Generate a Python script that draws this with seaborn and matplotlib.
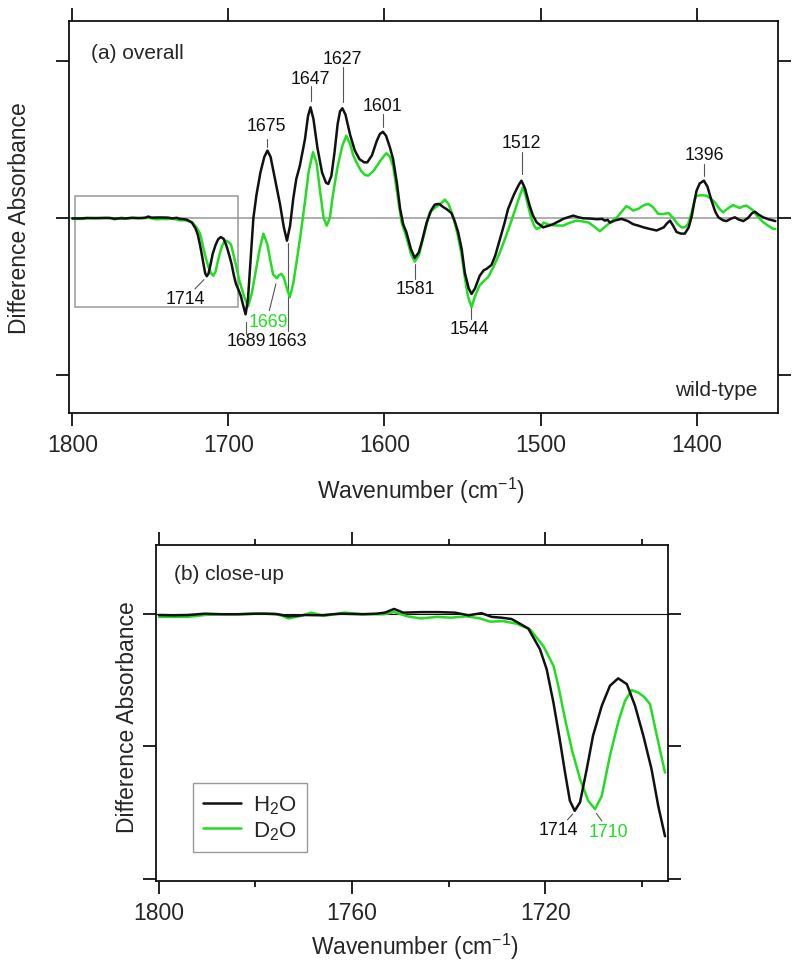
import numpy as np
import pandas as pd
import matplotlib
matplotlib.use("Agg")
import matplotlib.pyplot as plt
from matplotlib.patches import Rectangle
import seaborn as sns

# ---------------- data ----------------
wn_h2o = [1800, 1797, 1794, 1790.5, 1787, 1783.6, 1780, 1778, 1775.3, 1773.2, 1771.5, 1769.8,
          1766.3, 1764, 1762.2, 1758, 1755, 1753.2, 1751.3, 1749.4, 1745.6, 1742.2, 1738.7,
          1735.9, 1733.2, 1731.1, 1729.1, 1727, 1725.6, 1723.5, 1721.1, 1719.7, 1718.3, 1717.0,
          1715.9, 1714.9, 1713.9, 1712.8, 1711.4, 1710.1, 1708.3, 1706.6, 1704.9, 1703.1, 1701.4,
          1699.7, 1698.0, 1696.6, 1695.2, 1693.5, 1692, 1690.5, 1689, 1687.5, 1686, 1684, 1682,
          1679.5, 1677, 1675, 1673, 1670, 1667, 1664.5, 1662.5, 1660.5, 1658.5, 1656.5, 1654.3,
          1651, 1649, 1647.4, 1645.5, 1643, 1640, 1637.5, 1636, 1634, 1632, 1630, 1628.5, 1627,
          1625, 1622, 1619, 1616, 1613, 1611, 1608, 1605, 1603, 1601, 1599, 1596.5, 1594.5, 1592,
          1590, 1588, 1586, 1583, 1580.6, 1578, 1576, 1573, 1570, 1567.8, 1565, 1562.4, 1560, 1557,
          1555, 1552.8, 1550.5, 1548.5, 1546, 1544.2, 1542, 1539, 1536.5, 1534.6, 1531.4, 1529,
          1526, 1523, 1520.8, 1517, 1514, 1512.2, 1510, 1507, 1505, 1502.6, 1498.3, 1495, 1492,
          1488, 1485.5, 1482, 1479, 1476, 1472.7, 1468, 1464, 1460.5, 1458.8, 1457, 1455.5, 1452,
          1448, 1444, 1440.6, 1437, 1434, 1430, 1425.6, 1421, 1419, 1417, 1415, 1412.8, 1410,
          1407.5, 1405, 1403, 1401.5, 1400, 1398, 1395.3, 1393, 1390.4, 1388, 1386, 1383, 1380.8,
          1378, 1375.4, 1373, 1370, 1367, 1364.5, 1362.6, 1360, 1357.3, 1354, 1350.8, 1349.5]
abs_h2o = [-0.0025, -0.003, -0.0025, 0.0, -0.001, -0.001, 0.0, 0.0, -0.001, -0.005, -0.004, -0.0025,
           -0.003, -0.001, 0.0, -0.001, 0.0, 0.002, 0.009, 0.002, 0.003, 0.003, 0.002,
           -0.003, 0.001, -0.006, -0.0075, -0.01, -0.017, -0.028, -0.067, -0.105, -0.168, -0.237,
           -0.30, -0.353, -0.372, -0.356, -0.293, -0.23, -0.174, -0.136, -0.122, -0.133, -0.174,
           -0.23, -0.293, -0.363, -0.42, -0.46, -0.50, -0.56, -0.615, -0.52, -0.30, 0.0, 0.15,
           0.29, 0.39, 0.43, 0.39, 0.24, 0.09, -0.06, -0.145, -0.05, 0.12, 0.25, 0.33,
           0.50, 0.65, 0.706, 0.63, 0.45, 0.29, 0.225, 0.217, 0.27, 0.42, 0.60, 0.68, 0.70,
           0.66, 0.53, 0.43, 0.375, 0.355, 0.355, 0.40, 0.49, 0.535, 0.55, 0.525, 0.45, 0.377, 0.22,
           0.06, -0.04, -0.09, -0.20, -0.255, -0.22, -0.15, -0.03, 0.05, 0.085, 0.09, 0.07, 0.055, 0.03,
           -0.02, -0.09, -0.20, -0.35, -0.45, -0.485, -0.45, -0.37, -0.335, -0.325, -0.30, -0.24,
           -0.134, -0.03, 0.057, 0.15, 0.21, 0.238, 0.19, 0.08, 0.02, -0.027, -0.06, -0.05, -0.04,
           -0.02, -0.006, 0.005, 0.015, 0.005, -0.002, -0.004, -0.008, -0.006, -0.017, -0.012, -0.03, -0.015,
           -0.006, -0.02, -0.04, -0.05, -0.06, -0.07, -0.08, -0.06, -0.035, -0.017, -0.05, -0.09, -0.10,
           -0.10, -0.06, 0.015, 0.10, 0.174, 0.22, 0.238, 0.20, 0.11, 0.04, 0.004, -0.015, -0.02,
           -0.005, 0.004, -0.01, -0.02, 0.0, 0.03, 0.04, 0.02, 0.004, -0.008, -0.017, -0.02]

wn_d2o = [1800, 1797, 1793.9, 1790.5, 1787, 1783.6, 1780, 1776, 1774.5, 1773.2, 1770.5, 1768.5,
          1765.7, 1761.6, 1757.5, 1753.4, 1751.3, 1748.5, 1745.8, 1742.4, 1739.6, 1736.2, 1733.5,
          1731.4, 1728.7, 1725.9, 1723.1, 1720.4, 1718.3, 1717.3, 1715.9, 1714.5, 1712.8, 1711.1,
          1709.7, 1708.3, 1706.6, 1704.9, 1703.5, 1702.1, 1700.7, 1699.4, 1698.3, 1696.9, 1695.2,
          1693, 1690, 1687.4, 1685, 1682.7, 1680, 1677.6, 1675, 1673, 1671.4, 1669, 1667.5, 1666,
          1664.5, 1662.5, 1660.7, 1658.5, 1655.4, 1653, 1651, 1648.5, 1645.8, 1643.5, 1641, 1639,
          1637, 1635, 1633, 1630, 1627, 1624.4, 1622, 1620, 1618, 1615, 1612.5, 1610.5, 1607, 1603,
          1600, 1598.7, 1596.5, 1594.5, 1592, 1589, 1586, 1583, 1580.6, 1578, 1575, 1573, 1571,
          1567, 1564, 1561.3, 1559, 1557, 1555, 1552.8, 1550.5, 1548.5, 1546.5, 1544.2, 1542, 1539,
          1536, 1533.6, 1530, 1526, 1523, 1519.7, 1516, 1513, 1511.2, 1509.5, 1507.5, 1505.8, 1504,
          1502.6, 1500, 1498, 1496, 1494, 1490, 1485.5, 1481, 1477, 1473, 1469, 1465, 1462, 1459,
          1455.5, 1451, 1448, 1445, 1443, 1440.6, 1437, 1434, 1431, 1428, 1424.6, 1421, 1418, 1415,
          1412, 1409.6, 1407.5, 1405.4, 1403, 1401, 1400, 1397, 1393.6, 1391, 1388.3, 1385.5, 1383,
          1380, 1376.5, 1374, 1372.2, 1370, 1368, 1366, 1364, 1361, 1357.3, 1354, 1350.8, 1349.5]
abs_d2o = [-0.006, -0.006, -0.006, -0.0025, -0.001, -0.001, 0.0, 0.0, -0.004, -0.009, -0.004, 0.002,
           -0.004, 0.002, -0.001, -0.001, 0.003, -0.005, -0.009, -0.006, -0.0075, -0.005, -0.009,
           -0.015, -0.014, -0.019, -0.03, -0.061, -0.098, -0.136, -0.199, -0.256, -0.312, -0.353,
           -0.369, -0.344, -0.268, -0.205, -0.165, -0.144, -0.149, -0.158, -0.171, -0.23, -0.30,
           -0.40, -0.50, -0.565, -0.48, -0.35, -0.20, -0.10, -0.17, -0.28, -0.36, -0.385, -0.365, -0.357,
           -0.38, -0.45, -0.506, -0.42, -0.22, -0.05, 0.10, 0.30, 0.42, 0.35, 0.15, 0.0,
           -0.049, 0.0, 0.15, 0.33, 0.46, 0.525, 0.47, 0.40, 0.355, 0.30, 0.275, 0.27, 0.30, 0.36,
           0.40, 0.413, 0.39, 0.334, 0.17, -0.03, -0.12, -0.23, -0.279, -0.24, -0.12, -0.04, 0.036,
           0.07, 0.09, 0.117, 0.09, 0.036, -0.03, -0.12, -0.24, -0.38, -0.50, -0.57, -0.50, -0.43,
           -0.40, -0.378, -0.31, -0.219, -0.14, -0.049, 0.06, 0.15, 0.196, 0.14, 0.06, -0.006, -0.05,
           -0.07, -0.06, -0.03, -0.038, -0.045, -0.048, -0.049, -0.03, -0.017, -0.022, -0.03, -0.06, -0.085, -0.06,
           -0.03, 0.004, 0.04, 0.075, 0.065, 0.047, 0.06, 0.08, 0.09, 0.07, 0.026, 0.025, 0.032, 0.0,
           -0.04, -0.06, -0.06, -0.04, 0.04, 0.12, 0.142, 0.145, 0.142, 0.125, 0.10, 0.06, 0.036,
           0.06, 0.083, 0.07, 0.064, 0.075, 0.079, 0.065, 0.05, 0.01, -0.027, -0.05, -0.07, -0.07]

peak_labels_top = ["1714", "1689", "1669", "1663", "1675", "1647", "1627", "1601",
                   "1581", "1544", "1512", "1396"]
peak_labels_bottom = ["1714", "1710"]
series_names = ["H$_2$O", "D$_2$O"]

# ---------------- style ----------------
sns.set_theme(style="ticks")
plt.rcParams["font.family"] = ["Liberation Sans", "DejaVu Sans"]
plt.rcParams["mathtext.fontset"] = "custom"
plt.rcParams["mathtext.rm"] = "Liberation Sans"
plt.rcParams["mathtext.default"] = "regular"

BLACK = "#111111"
GREEN = "#22dd22"
GRAY = "#999999"

df_h = pd.DataFrame({"wn": wn_h2o, "A": abs_h2o})
df_d = pd.DataFrame({"wn": wn_d2o, "A": abs_d2o})

fig = plt.figure(figsize=(8.0, 9.7), dpi=100)
ax1 = fig.add_axes([0.0866, 0.5732, 0.8855, 0.4041])
ax2 = fig.add_axes([0.1956, 0.0910, 0.6399, 0.3463])

LBL = 16.5
ANN = 12.8

def style_axes(ax):
    for s in ax.spines.values():
        s.set_linewidth(1.3)
        s.set_color(BLACK)
    ax.tick_params(axis="both", which="both", direction="out", color=BLACK,
                   top=True, right=True, labelsize=LBL, width=1.3)
    ax.tick_params(axis="both", which="major", length=9.5, pad=5)
    ax.tick_params(axis="both", which="minor", length=4.5)
    ax.tick_params(axis="y", labelleft=False, labelright=False)
    ax.tick_params(axis="x", labeltop=False)

# ---------------- panel (a) ----------------
ax1.axhline(0, color=GRAY, lw=1.1, zorder=1)
sns.lineplot(data=df_d, x="wn", y="A", ax=ax1, color=GREEN, lw=1.8, sort=False, estimator=None, zorder=3)
sns.lineplot(data=df_h, x="wn", y="A", ax=ax1, color=BLACK, lw=1.8, sort=False, estimator=None, zorder=4)
ax1.set_xlim(1802, 1348)
ax1.set_ylim(-1.245, 1.257)
ax1.set_xticks([1800, 1700, 1600, 1500, 1400])
ax1.set_yticks([-1, 0, 1])
style_axes(ax1)
ax1.set_xlabel("Wavenumber (cm$^{-1}$)", fontsize=LBL)
ax1.set_ylabel("Difference Absorbance", fontsize=LBL)
ax1.xaxis.set_label_coords(0.497, -0.158)
ax1.yaxis.set_label_coords(-0.054, 0.50)

ax1.add_patch(Rectangle((1693.8, -0.566), 1798.5 - 1693.8, 0.704, fill=False,
                        edgecolor=GRAY, lw=1.1, zorder=2))

ax1.text(0.030, 0.920, "(a) overall", transform=ax1.transAxes, fontsize=15, va="center", ha="left")
ax1.text(0.971, 0.061, "wild-type", transform=ax1.transAxes, fontsize=15, va="center", ha="right")

# label, text position, leader start, leader end, colour
ann_top = [
    (peak_labels_top[0], (1727.9, -0.517), (1715.7, -0.394), (1721.5, -0.453), BLACK),
    (peak_labels_top[1], (1688.5, -0.785), (1689.0, -0.664), (1689.0, -0.740), BLACK),
    (peak_labels_top[2], (1674.2, -0.659), (1669.6, -0.421), (1673.8, -0.592), GREEN),
    (peak_labels_top[3], (1662.0, -0.780), (1661.7, -0.160), (1661.7, -0.720), BLACK),
    (peak_labels_top[4], (1675.5, 0.589), (1675.1, 0.504), (1675.1, 0.451), BLACK),
    (peak_labels_top[5], (1647.3, 0.887), (1647.3, 0.840), (1647.3, 0.749), BLACK),
    (peak_labels_top[6], (1626.8, 1.015), (1626.8, 0.962), (1626.8, 0.738), BLACK),
    (peak_labels_top[7], (1601.2, 0.717), (1601.2, 0.664), (1601.2, 0.579), BLACK),
    (peak_labels_top[8], (1580.4, -0.453), (1580.6, -0.294), (1580.6, -0.389), BLACK),
    (peak_labels_top[9], (1545.8, -0.704), (1544.6, -0.568), (1544.6, -0.645), BLACK),
    (peak_labels_top[10], (1512.1, 0.483), (1512.1, 0.421), (1512.1, 0.281), BLACK),
    (peak_labels_top[11], (1395.2, 0.408), (1395.2, 0.345), (1395.2, 0.270), BLACK),
]
for lab, tpos, p0, p1, col in ann_top:
    ax1.plot([p0[0], p1[0]], [p0[1], p1[1]], color="#555555", lw=0.8, zorder=2)
    ax1.text(tpos[0], tpos[1], lab, color=col, fontsize=ANN, ha="center", va="center", zorder=5)

# ---------------- panel (b) ----------------
sub_h = df_h[df_h["wn"] >= 1695.0]
sub_d = df_d[df_d["wn"] >= 1695.0]
ax2.axhline(0, color=BLACK, lw=0.8, zorder=1)
sns.lineplot(data=sub_h, x="wn", y="A", ax=ax2, color=BLACK, lw=1.8, sort=False, estimator=None,
             label=series_names[0], zorder=4)
sns.lineplot(data=sub_d, x="wn", y="A", ax=ax2, color=GREEN, lw=1.8, sort=False, estimator=None,
             label=series_names[1], zorder=3)
ax2.set_xlim(1800.5, 1694.5)
ax2.set_ylim(-0.504, 0.13)
ax2.set_xticks([1800, 1760, 1720])
ax2.set_xticks([1780, 1740, 1700], minor=True)
ax2.set_yticks([-0.5, -0.25, 0])
style_axes(ax2)
ax2.set_xlabel("Wavenumber (cm$^{-1}$)", fontsize=LBL)
ax2.set_ylabel("Difference Absorbance", fontsize=LBL)
ax2.xaxis.set_label_coords(0.505, -0.150)
ax2.yaxis.set_label_coords(-0.034, 0.49)

ax2.text(0.035, 0.916, "(b) close-up", transform=ax2.transAxes, fontsize=15, va="center", ha="left")

ann_bot = [
    (peak_labels_bottom[0], (1717.3, -0.407), (1714.3, -0.378), (1715.4, -0.389), BLACK),
    (peak_labels_bottom[1], (1707.0, -0.411), (1709.4, -0.377), (1708.3, -0.391), GREEN),
]
for lab, tpos, p0, p1, col in ann_bot:
    ax2.plot([p0[0], p1[0]], [p0[1], p1[1]], color="#555555", lw=0.8, zorder=2)
    ax2.text(tpos[0], tpos[1], lab, color=col, fontsize=ANN, ha="center", va="center", zorder=5)

leg = ax2.legend(loc="lower left", bbox_to_anchor=(0.072, 0.086), borderaxespad=0,
                 fontsize=16, frameon=True, fancybox=False, handlelength=1.7,
                 handletextpad=0.55, labelspacing=0.15, borderpad=0.45)
leg.get_frame().set_edgecolor(GRAY)
leg.get_frame().set_linewidth(1.0)
leg.get_frame().set_alpha(1)

fig.savefig("out.png", dpi=100)
